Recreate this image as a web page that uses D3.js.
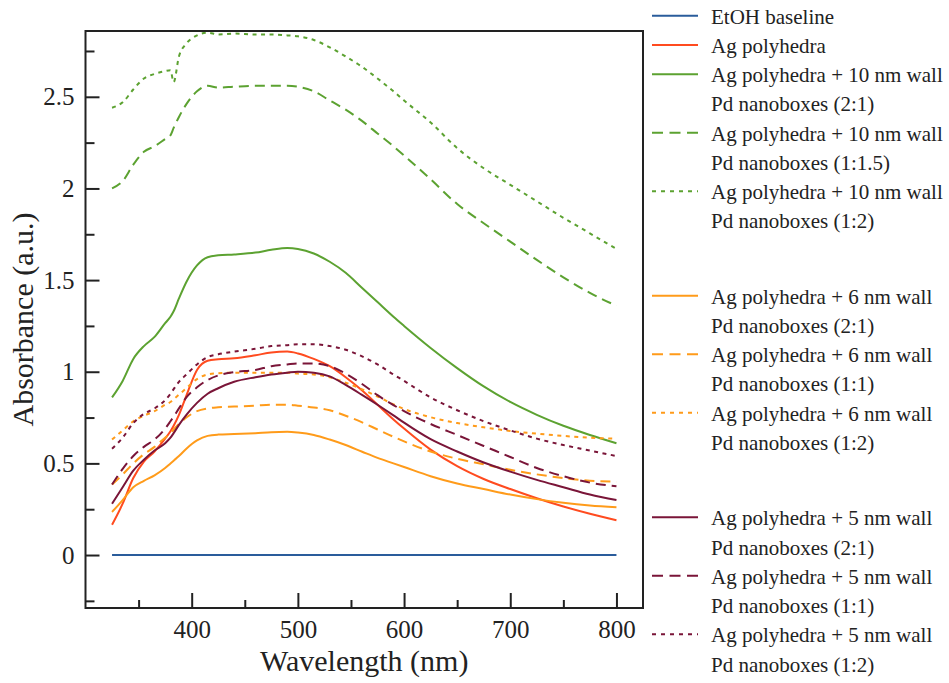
<!DOCTYPE html>
<html><head><meta charset="utf-8">
<script src="https://cdn.jsdelivr.net/npm/d3@7"></script>
<style>body{margin:0;background:#fff}svg{display:block}text{font-family:"Liberation Serif","Times New Roman",serif;fill:#222}</style>
</head><body>
<svg id="c" width="949" height="683"></svg>
<script>
const wavelengths = [325,335,345,355,365,375,380,383,388,395,405,415,425,440,460,475,490,500,515,530,545,560,575,590,600,625,650,675,700,725,750,775,800];
const etohBaseline = wavelengths.map(() => 0);
const agPolyhedra = [0.165,0.28,0.42,0.51,0.565,0.635,0.675,0.705,0.765,0.87,1.01,1.06,1.068,1.073,1.09,1.105,1.11,1.10,1.07,1.03,0.97,0.90,0.82,0.74,0.69,0.575,0.485,0.415,0.36,0.31,0.265,0.225,0.19];
const ag10nm_2_1 = [0.86,0.95,1.07,1.14,1.19,1.265,1.30,1.33,1.40,1.49,1.58,1.625,1.635,1.64,1.65,1.665,1.675,1.67,1.645,1.60,1.54,1.46,1.38,1.30,1.25,1.13,1.02,0.92,0.835,0.765,0.705,0.655,0.61];
const ag10nm_1_15 = [2.0,2.04,2.13,2.2,2.23,2.27,2.29,2.33,2.39,2.46,2.53,2.56,2.55,2.555,2.56,2.56,2.56,2.555,2.53,2.48,2.43,2.37,2.30,2.23,2.18,2.05,1.915,1.81,1.71,1.61,1.515,1.43,1.36];
const ag10nm_1_2 = [2.44,2.47,2.54,2.60,2.625,2.64,2.645,2.58,2.72,2.79,2.835,2.85,2.84,2.845,2.84,2.84,2.835,2.83,2.81,2.77,2.72,2.665,2.60,2.53,2.48,2.36,2.22,2.11,2.02,1.93,1.84,1.755,1.67];
const ag6nm_2_1 = [0.235,0.30,0.37,0.405,0.435,0.475,0.50,0.515,0.54,0.58,0.625,0.65,0.657,0.66,0.665,0.67,0.672,0.668,0.655,0.63,0.60,0.565,0.53,0.50,0.48,0.43,0.39,0.36,0.33,0.305,0.285,0.27,0.26];
const ag6nm_1_1 = [0.385,0.44,0.50,0.55,0.59,0.64,0.665,0.685,0.715,0.75,0.785,0.80,0.806,0.81,0.815,0.82,0.82,0.815,0.805,0.79,0.76,0.725,0.685,0.645,0.62,0.565,0.525,0.495,0.465,0.44,0.42,0.405,0.40];
const ag6nm_1_2 = [0.63,0.68,0.73,0.76,0.785,0.82,0.835,0.85,0.875,0.91,0.96,0.985,0.992,0.995,0.995,0.995,0.995,0.99,0.985,0.97,0.94,0.905,0.865,0.822,0.797,0.752,0.72,0.697,0.677,0.662,0.65,0.64,0.635];
const ag5nm_2_1 = [0.28,0.37,0.46,0.52,0.57,0.61,0.64,0.665,0.71,0.765,0.83,0.88,0.91,0.945,0.97,0.985,0.995,1.0,0.995,0.975,0.928,0.875,0.82,0.762,0.722,0.632,0.565,0.505,0.455,0.41,0.37,0.33,0.30];
const ag5nm_1_1 = [0.385,0.47,0.54,0.59,0.63,0.69,0.73,0.755,0.80,0.86,0.915,0.955,0.98,0.998,1.01,1.03,1.04,1.045,1.045,1.03,0.99,0.935,0.872,0.818,0.785,0.715,0.655,0.595,0.535,0.475,0.43,0.395,0.375];
const ag5nm_1_2 = [0.58,0.64,0.72,0.77,0.80,0.845,0.88,0.905,0.945,0.985,1.04,1.08,1.095,1.11,1.125,1.14,1.145,1.15,1.15,1.14,1.12,1.085,1.04,0.985,0.95,0.86,0.79,0.73,0.68,0.635,0.60,0.57,0.54];

const xMajorTicks = [400,500,600,700,800];
const xMinorTicks = [350,450,550,650,750];
const yMajorTicks = [0,0.5,1,1.5,2,2.5];
const yMinorTicks = [-0.25,0.25,0.75,1.25,1.75,2.25,2.75];
const yTickLabels = ["0","0.5","1","1.5","2","2.5"];

const C = {blue:"#2a5c9b", red:"#ff4b1f", green:"#5ca231", orange:"#ff9b1a", maroon:"#7a1538"};
const DASH = "10,6", DOT = "4,4.5";

const series = [
  {label:["EtOH baseline"], values:etohBaseline, color:C.blue, dash:null, group:0},
  {label:["Ag polyhedra"], values:agPolyhedra, color:C.red, dash:null, group:0},
  {label:["Ag polyhedra + 10 nm wall","Pd nanoboxes (2:1)"], values:ag10nm_2_1, color:C.green, dash:null, group:0},
  {label:["Ag polyhedra + 10 nm wall","Pd nanoboxes (1:1.5)"], values:ag10nm_1_15, color:C.green, dash:DASH, group:0},
  {label:["Ag polyhedra + 10 nm wall","Pd nanoboxes (1:2)"], values:ag10nm_1_2, color:C.green, dash:DOT, group:0},
  {label:["Ag polyhedra + 6 nm  wall","Pd nanoboxes (2:1)"], values:ag6nm_2_1, color:C.orange, dash:null, group:1},
  {label:["Ag polyhedra + 6 nm wall","Pd nanoboxes (1:1)"], values:ag6nm_1_1, color:C.orange, dash:DASH, group:1},
  {label:["Ag polyhedra + 6 nm wall","Pd nanoboxes (1:2)"], values:ag6nm_1_2, color:C.orange, dash:DOT, group:1},
  {label:["Ag polyhedra + 5 nm wall","Pd nanoboxes (2:1)"], values:ag5nm_2_1, color:C.maroon, dash:null, group:2},
  {label:["Ag polyhedra + 5 nm wall","Pd nanoboxes (1:1)"], values:ag5nm_1_1, color:C.maroon, dash:DASH, group:2},
  {label:["Ag polyhedra + 5 nm wall","Pd nanoboxes (1:2)"], values:ag5nm_1_2, color:C.maroon, dash:DOT, group:2}
];

const L = 85.5, R = 643, T = 31, B = 608;
const x = d3.scaleLinear().domain([300, 825]).range([L, R]);
const y = d3.scaleLinear().domain([-0.289, 2.859]).range([B, T]);
const svg = d3.select("#c");

svg.append("defs").append("clipPath").attr("id","clip")
  .append("rect").attr("x",L).attr("y",T).attr("width",R-L).attr("height",B-T);

const line = d3.line().x((d,i)=>x(wavelengths[i])).y(d=>y(d)).curve(d3.curveMonotoneX);
const plot = svg.append("g").attr("clip-path","url(#clip)");
series.forEach(s => {
  plot.append("path").attr("d", line(s.values)).attr("fill","none")
    .attr("stroke", s.color).attr("stroke-width", 2)
    .attr("stroke-dasharray", s.dash);
});

// axes with inward ticks
const xAxis = d3.axisBottom(x).tickValues(xMajorTicks).tickSizeInner(-15).tickSizeOuter(0).tickPadding(0).tickFormat(d3.format("d"));
const gx = svg.append("g").attr("transform",`translate(0,${B})`).call(xAxis);
gx.select(".domain").remove();
gx.selectAll(".tick line").attr("stroke","#222").attr("stroke-width",2);
gx.selectAll(".tick text").attr("y",30).attr("dy",0).style("font-size","25px").attr("fill","#222");
const xMinor = d3.axisBottom(x).tickValues(xMinorTicks).tickSize(-8).tickFormat("");
const gxm = svg.append("g").attr("transform",`translate(0,${B})`).call(xMinor);
gxm.select(".domain").remove();
gxm.selectAll(".tick line").attr("stroke","#222").attr("stroke-width",2);

const yAxis = d3.axisLeft(y).tickValues(yMajorTicks).tickSizeInner(-14).tickSizeOuter(0).tickPadding(11)
  .tickFormat((d,i)=>yTickLabels[i]);
const gy = svg.append("g").attr("transform",`translate(${L},0)`).call(yAxis);
gy.select(".domain").remove();
gy.selectAll(".tick line").attr("stroke","#222").attr("stroke-width",2);
gy.selectAll(".tick text").attr("x",-11).style("font-size","25px").attr("fill","#222");
const yMinor = d3.axisLeft(y).tickValues(yMinorTicks).tickSize(-9).tickFormat("");
const gym = svg.append("g").attr("transform",`translate(${L},0)`).call(yMinor);
gym.select(".domain").remove();
gym.selectAll(".tick line").attr("stroke","#222").attr("stroke-width",2);

// frame
svg.append("rect").attr("x",L).attr("y",T).attr("width",R-L).attr("height",B-T)
  .attr("fill","none").attr("stroke","#222").attr("stroke-width",2);

// axis titles
svg.append("text").attr("x",(L+R)/2).attr("y",671).attr("text-anchor","middle")
  .style("font-size","30px").text("Wavelength (nm)");
svg.append("text").attr("transform",`translate(33,${(T+B)/2}) rotate(-90)`).attr("text-anchor","middle")
  .style("font-size","30px").text("Absorbance (a.u.)");

// legend
const groupStart = [16.7, 296.7, 518.3];
const rowH = 29.25;
const lg = svg.append("g");
const rowsUsed = [0,0,0];
series.forEach(s => {
  const g = s.group;
  const cy = groupStart[g] + rowsUsed[g]*rowH;
  lg.append("line").attr("x1",652).attr("x2",698).attr("y1",cy-1).attr("y2",cy-1)
    .attr("stroke",s.color).attr("stroke-width",2).attr("stroke-dasharray", s.dash ? (s.dash===DASH ? "11,6.5" : "4,5") : null);
  s.label.forEach((t,k) => {
    lg.append("text").attr("x",711).attr("y",cy + k*rowH + 7).style("font-size","21px").text(t);
  });
  rowsUsed[g] += s.label.length;
});
</script>
</body></html>
